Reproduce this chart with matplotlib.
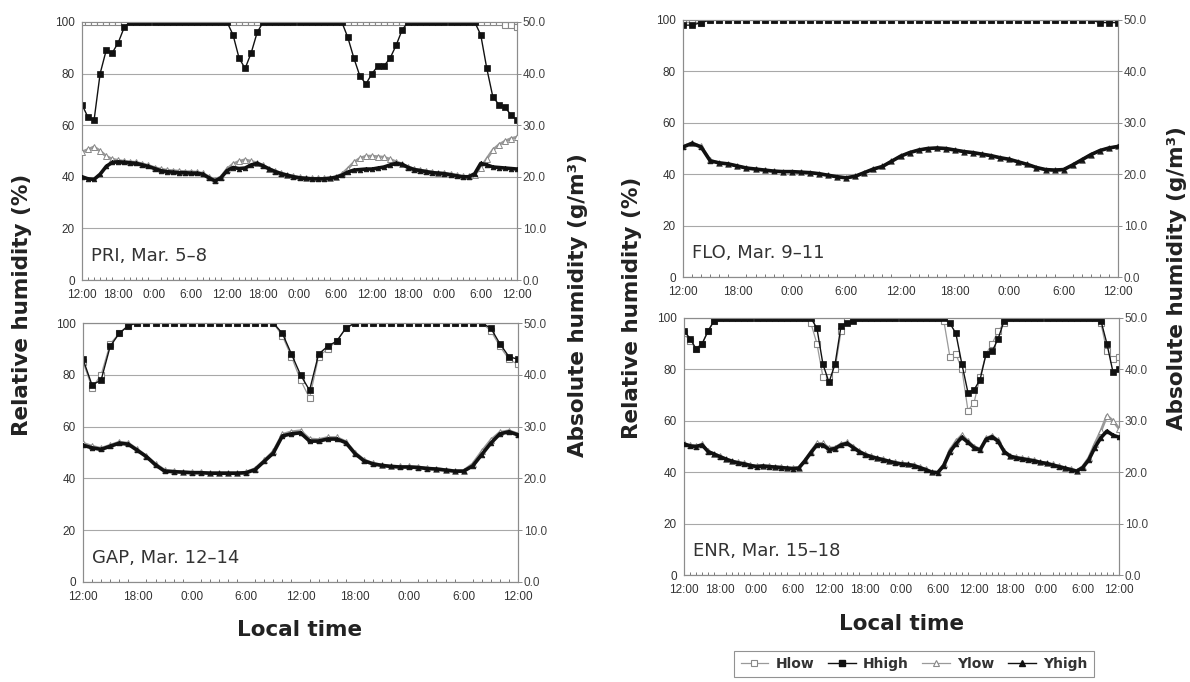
import numpy as np
import matplotlib
matplotlib.use("Agg")
import matplotlib.pyplot as plt
from matplotlib.lines import Line2D
from matplotlib.ticker import MultipleLocator, FormatStrFormatter

plt.rcParams['font.family'] = ['Liberation Sans', 'DejaVu Sans']

# ---------------- data (hourly, starting 12:00 local time) ----------------
TICKS_72 = ['12:00', '18:00', '0:00', '6:00'] * 3 + ['12:00']
TICKS_48 = ['12:00', '18:00', '0:00', '6:00'] * 2 + ['12:00']

# PRI, Mar. 5-8
pri_hlow = [100] * 70 + [99, 99, 98]
pri_hhigh = ([68, 63, 62, 80, 89, 88, 92, 98] + [100] * 17 + [95, 86, 82, 88, 96]
             + [100] * 14 + [94, 86, 79, 76, 80, 83, 83, 86, 91, 97] + [100] * 12
             + [95, 82, 71, 68, 67, 64, 62])
pri_ylow = [24.8, 25.3, 25.8, 25.0, 24.0, 23.4, 23.2, 23.0, 22.9, 22.8, 22.5, 22.2,
            21.8, 21.5, 21.3, 21.2, 21.1, 21.0, 21.0, 20.9, 20.7, 20.0, 19.4, 20.0,
            21.5, 22.5, 23.0, 23.3, 23.0, 22.7, 22.2, 21.6, 21.1, 20.7, 20.4, 20.1,
            19.9, 19.8, 19.7, 19.7, 19.7, 19.8, 20.0, 20.5, 21.6, 22.8, 23.6, 24.0,
            24.0, 23.9, 23.8, 23.4, 22.9, 22.5, 21.9, 21.5, 21.3, 21.1, 20.9, 20.8,
            20.7, 20.5, 20.3, 20.1, 20.1, 20.4, 21.8, 23.5, 25.2, 26.2, 26.9, 27.4, 27.7]
pri_yhigh = [20.0, 19.6, 19.5, 20.5, 22.0, 22.8, 22.9, 22.8, 22.7, 22.6, 22.3, 22.0,
             21.6, 21.2, 21.0, 20.9, 20.8, 20.8, 20.7, 20.7, 20.5, 19.8, 19.2, 19.8,
             21.2, 21.8, 21.6, 21.7, 22.3, 22.6, 22.1, 21.5, 21.0, 20.6, 20.3, 20.0,
             19.8, 19.7, 19.6, 19.6, 19.6, 19.7, 19.9, 20.3, 20.9, 21.3, 21.4, 21.5,
             21.5, 21.7, 21.9, 22.3, 22.6, 22.4, 21.8, 21.4, 21.2, 21.0, 20.8, 20.7,
             20.6, 20.4, 20.2, 20.0, 20.0, 20.6, 22.6, 22.3, 21.9, 21.8, 21.7, 21.6, 21.5]

# FLO, Mar. 9-11
flo_hlow = [99, 99, 99] + [100] * 46
flo_hhigh = [98, 98, 99] + [100] * 43 + [99, 99, 99]
flo_ylow = [25.4, 26.1, 25.4, 22.7, 22.2, 22.0, 21.6, 21.2, 21.0, 20.8, 20.6, 20.5,
            20.5, 20.4, 20.3, 20.1, 19.8, 19.5, 19.3, 19.6, 20.3, 21.0, 21.5, 22.5,
            23.5, 24.2, 24.7, 25.0, 25.1, 25.0, 24.7, 24.4, 24.2, 23.9, 23.6, 23.2,
            22.9, 22.4, 21.9, 21.3, 20.9, 20.8, 20.9, 21.8, 22.8, 23.8, 24.6, 25.1, 25.4]
flo_yhigh = [25.3, 26.0, 25.3, 22.6, 22.2, 22.0, 21.6, 21.2, 21.0, 20.8, 20.6, 20.5,
             20.5, 20.4, 20.3, 20.1, 19.8, 19.5, 19.3, 19.6, 20.3, 21.0, 21.5, 22.5,
             23.5, 24.2, 24.7, 25.0, 25.1, 25.0, 24.7, 24.4, 24.2, 23.9, 23.6, 23.2,
             22.9, 22.4, 21.9, 21.3, 20.9, 20.8, 20.9, 21.8, 22.8, 23.8, 24.6, 25.1, 25.4]

# GAP, Mar. 12-14
gap_hlow = ([85, 75, 80, 92, 96, 99] + [100] * 16 + [95, 87, 78, 71, 87, 90, 93, 98]
            + [100] * 15 + [97, 91, 86, 84])
gap_hhigh = ([86, 76, 78, 91, 96, 99] + [100] * 16 + [96, 88, 80, 74, 88, 91, 93, 98]
             + [100] * 15 + [98, 92, 87, 86])
gap_ylow = [26.8, 26.2, 25.8, 26.4, 27.0, 26.8, 25.6, 24.3, 22.8, 21.6, 21.4, 21.3,
            21.2, 21.2, 21.1, 21.1, 21.1, 21.1, 21.2, 21.9, 23.5, 25.2, 28.5, 29.0,
            29.2, 27.6, 27.5, 27.9, 27.9, 27.1, 25.0, 23.6, 22.9, 22.6, 22.4, 22.3,
            22.3, 22.2, 22.0, 21.9, 21.7, 21.5, 21.5, 22.8, 25.2, 27.4, 28.9, 29.2, 28.6]
gap_yhigh = [26.4, 25.9, 25.6, 26.2, 26.8, 26.6, 25.4, 24.2, 22.6, 21.4, 21.3, 21.2,
             21.1, 21.1, 21.0, 21.0, 21.0, 21.0, 21.1, 21.7, 23.3, 24.9, 28.2, 28.6,
             28.8, 27.2, 27.2, 27.6, 27.6, 26.9, 24.8, 23.4, 22.8, 22.5, 22.3, 22.2,
             22.2, 22.1, 21.9, 21.8, 21.6, 21.4, 21.4, 22.4, 24.6, 26.8, 28.6, 29.0, 28.4]

# ENR, Mar. 15-18
enr_hlow = ([94, 91, 88, 90, 95, 99] + [100] * 15 + [98, 90, 77, 77, 80, 95, 99]
            + [100] * 15 + [99, 85, 86, 80, 64, 67, 77, 86, 90, 95, 98]
            + [100] * 15 + [98, 87, 84, 85])
enr_hhigh = ([95, 92, 88, 90, 95, 99] + [100] * 16 + [96, 82, 75, 82, 97, 98, 99]
             + [100] * 15 + [98, 94, 82, 71, 72, 76, 86, 87, 92, 99]
             + [100] * 15 + [99, 90, 79, 80])
enr_ylow = [25.6, 25.2, 25.1, 25.4, 24.1, 23.6, 23.1, 22.6, 22.2, 21.9, 21.7, 21.4,
            21.2, 21.3, 21.2, 21.1, 21.0, 20.9, 20.8, 20.9, 22.3, 24.0, 25.6, 25.6,
            24.7, 24.8, 25.5, 25.8, 25.0, 24.1, 23.5, 23.1, 22.8, 22.5, 22.2, 21.9,
            21.7, 21.6, 21.4, 21.0, 20.6, 20.1, 20.0, 21.5, 24.3, 26.0, 27.2, 26.1,
            25.0, 24.5, 26.6, 27.1, 26.2, 24.1, 23.2, 22.9, 22.7, 22.5, 22.3, 22.0,
            21.8, 21.5, 21.2, 20.9, 20.6, 20.3, 21.1, 22.8, 25.5, 28.0, 31.0, 30.0, 28.5]
enr_yhigh = [25.5, 25.1, 25.0, 25.3, 24.0, 23.5, 23.0, 22.5, 22.1, 21.8, 21.6, 21.3,
             21.1, 21.2, 21.1, 21.0, 20.9, 20.8, 20.7, 20.8, 22.2, 23.8, 25.3, 25.3,
             24.4, 24.6, 25.3, 25.6, 24.8, 24.0, 23.4, 23.0, 22.7, 22.4, 22.1, 21.8,
             21.6, 21.5, 21.3, 20.9, 20.5, 20.0, 19.9, 21.3, 23.9, 25.5, 26.8, 25.8,
             24.8, 24.3, 26.4, 26.9, 26.0, 24.0, 23.1, 22.8, 22.6, 22.4, 22.2, 21.9,
             21.7, 21.4, 21.1, 20.8, 20.5, 20.2, 20.9, 22.4, 24.8, 26.7, 28.0, 27.2, 26.8]

# ---------------- figure ----------------
W, H = 1190, 682
fig = plt.figure(figsize=(W / 100, H / 100), dpi=100)

DARK = '#111111'
GREY = '#9a9a9a'
FRAME = '#8c8c8c'
WIDE = ['DejaVu Sans']

STYLE = {
    'hlow': dict(color=GREY, lw=0.9, marker='s', ms=4.0, mfc='white', mec='#888888', mew=0.8),
    'hhigh': dict(color=DARK, lw=1.0, marker='s', ms=4.0, mfc=DARK, mec=DARK, mew=0.5),
    'ylow': dict(color=GREY, lw=2.0, marker='^', ms=3.8, mfc='white', mec='#888888', mew=0.7),
    'yhigh': dict(color=DARK, lw=2.6, marker='^', ms=3.4, mfc=DARK, mec=DARK, mew=0.5),
}


def add_px_axes(left, top, right, bottom):
    return fig.add_axes([left / W, 1 - bottom / H, (right - left) / W, (bottom - top) / H])


def panel(box, ticklabels, title, hlow, hhigh, ylow, yhigh):
    ax = add_px_axes(*box)
    span = 6 * (len(ticklabels) - 1)
    hours = np.arange(len(hhigh))

    ax.set_xlim(0, span)
    ax.set_ylim(0, 100)
    ax.set_xticks(np.arange(0, span + 1, 6))
    ax.set_xticklabels(ticklabels)
    ax.xaxis.set_minor_locator(MultipleLocator(1))
    ax.set_yticks([0, 20, 40, 60, 80, 100])
    ax.grid(axis='y', color='#a8a8a8', lw=0.8)
    ax.set_axisbelow(True)
    ax.tick_params(axis='x', which='major', length=0, labelsize=8.5, pad=6.5, labelcolor='#333333')
    ax.tick_params(axis='x', which='minor', direction='in', length=2.5, width=0.7, color='#777777')
    ax.tick_params(axis='y', length=0, labelsize=8.5, pad=5, labelcolor='#333333')
    for s in ax.spines.values():
        s.set_color(FRAME)
        s.set_linewidth(0.8)

    ax2 = ax.twinx()
    ax2.set_ylim(0, 50)
    ax2.set_yticks(np.arange(0, 51, 10))
    ax2.yaxis.set_major_formatter(FormatStrFormatter('%.1f'))
    ax2.tick_params(axis='y', length=3, width=0.7, color=FRAME, labelsize=8.5, pad=1,
                    labelcolor='#444444')
    for s in ax2.spines.values():
        s.set_color(FRAME)
        s.set_linewidth(0.8)

    ax.plot(hours, hlow, zorder=3, **STYLE['hlow'])
    ax.plot(hours, hhigh, zorder=4, **STYLE['hhigh'])
    ax2.plot(hours, ylow, zorder=3, **STYLE['ylow'])
    ax2.plot(hours, yhigh, zorder=4, **STYLE['yhigh'])

    ax.text(0.02, 0.093, title, transform=ax.transAxes, fontsize=13, family=WIDE,
            color='#333333', va='center', ha='left')
    return ax


panel((82, 22, 517, 280), TICKS_72, 'PRI, Mar. 5–8', pri_hlow, pri_hhigh, pri_ylow, pri_yhigh)
panel((683, 20, 1118, 277), TICKS_48, 'FLO, Mar. 9–11', flo_hlow, flo_hhigh, flo_ylow, flo_yhigh)
panel((83, 323, 518, 582), TICKS_48, 'GAP, Mar. 12–14', gap_hlow, gap_hhigh, gap_ylow, gap_yhigh)
panel((684, 318, 1119, 575), TICKS_72, 'ENR, Mar. 15–18', enr_hlow, enr_hhigh, enr_ylow, enr_yhigh)

# shared axis titles
lab = dict(fontsize=15.5, fontweight='bold', family=WIDE, color='#222222',
           ha='center', va='center')
fig.text(22 / W, 1 - 305 / H, 'Relative humidity (%)', rotation=90, **lab)
fig.text(632 / W, 1 - 308 / H, 'Relative humidity (%)', rotation=90, **lab)
fig.text(578 / W, 1 - 305 / H, 'Absolute humidity (g/m³)', rotation=90, **lab)
fig.text(1177 / W, 1 - 278 / H, 'Absolute humidity (g/m³)', rotation=90, **lab)
fig.text(300 / W, 1 - 630 / H, 'Local time', **lab)
fig.text(902 / W, 1 - 624 / H, 'Local time', **lab)

legend_style = {
    'hlow': dict(color=GREY, lw=0.9, marker='s', ms=4.5, mfc='white', mec='#888888', mew=0.8),
    'hhigh': dict(color=DARK, lw=1.0, marker='s', ms=4.5, mfc=DARK, mec=DARK),
    'ylow': dict(color=GREY, lw=0.9, marker='^', ms=4.5, mfc='white', mec='#888888', mew=0.8),
    'yhigh': dict(color=DARK, lw=1.0, marker='^', ms=4.5, mfc=DARK, mec=DARK),
}
handles = [Line2D([], [], **legend_style[k]) for k in ('hlow', 'hhigh', 'ylow', 'yhigh')]
leg = fig.legend(handles, ['Hlow', 'Hhigh', 'Ylow', 'Yhigh'], ncol=4,
                 loc='center', bbox_to_anchor=(914 / W, 1 - 664 / H),
                 prop=dict(family=WIDE, size=10, weight='bold'),
                 frameon=True, fancybox=False, handlelength=2.0,
                 handletextpad=0.5, columnspacing=1.0, borderpad=0.45)
leg.get_frame().set_edgecolor('#777777')
leg.get_frame().set_linewidth(0.8)
for t in leg.get_texts():
    t.set_color('#333333')

fig.savefig('out.png', dpi=100, facecolor='white')
